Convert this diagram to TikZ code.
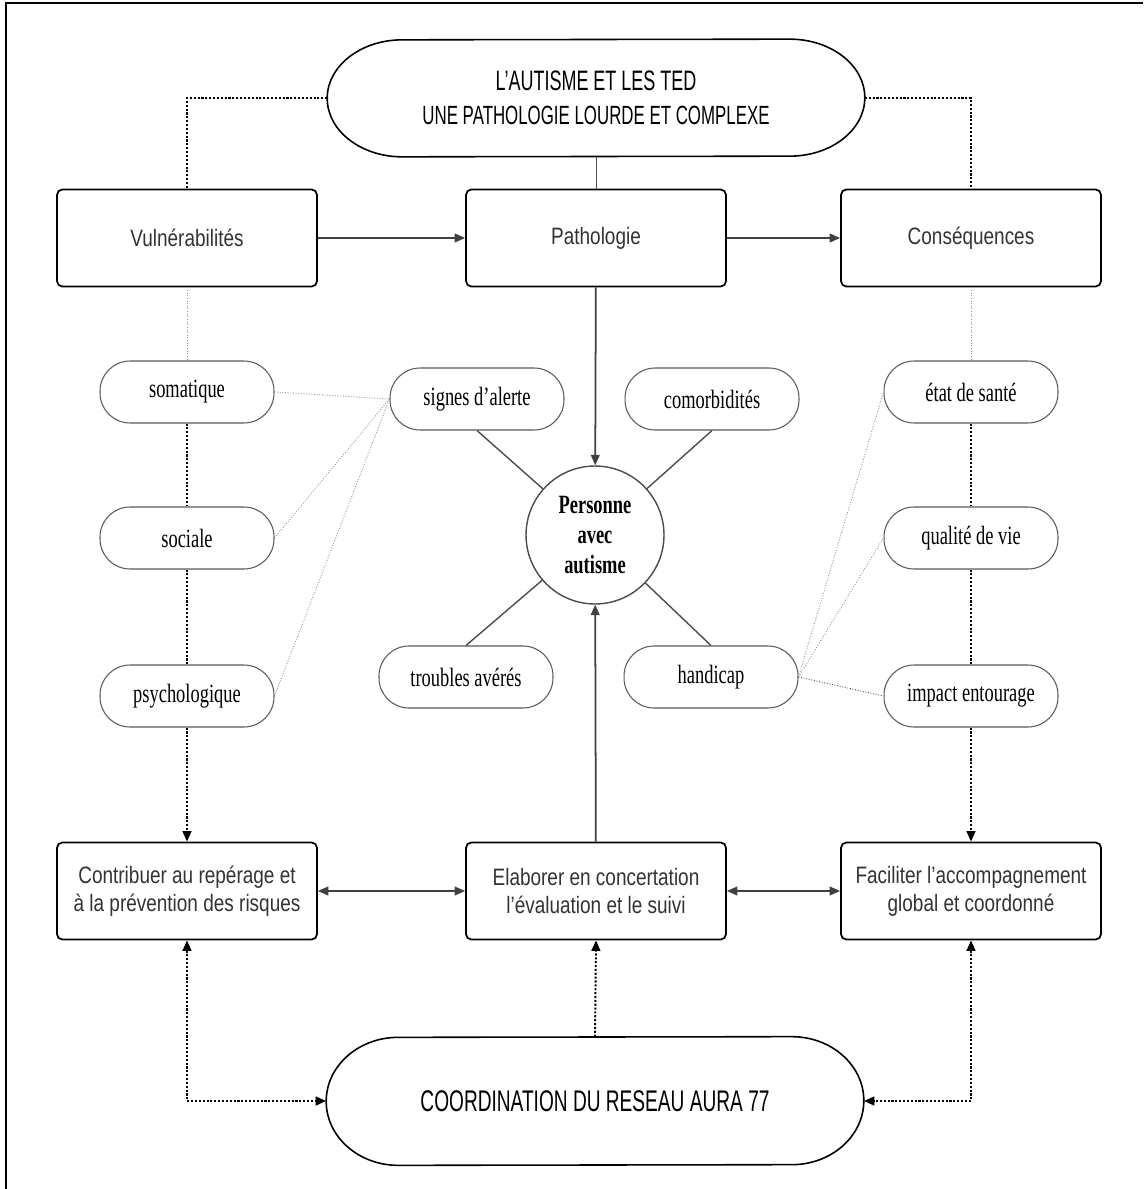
\documentclass[tikz,border=0pt]{standalone}
\usepackage{fontspec}
\setmainfont{Liberation Serif}
\newfontfamily\headsans[FakeStretch=0.64]{Liberation Sans}
\newfontfamily\boxsans[FakeStretch=0.8]{Liberation Sans}
\newfontfamily\pillserif[FakeStretch=0.7]{Liberation Serif}
\usetikzlibrary{calc,arrows.meta,positioning}
\newcommand\stadiumoutline[3]{\draw[line width=0.9pt] ($(#1.north east)+(-#2,0)$) arc[start angle=-90,end angle=90,x radius=#2,y radius=#3] -- ($(#1.south west)+(#2,0)$) arc[start angle=90,end angle=270,x radius=#2,y radius=#3] -- cycle;}

\begin{document}
\begin{tikzpicture}[x=0.02cm, y=-0.02cm,
		mainbox/.style={draw, line width=1pt, rounded corners=3pt, minimum width=5.2cm, minimum height=1.94cm, align=center, text=black!80, font=\boxsans\fontsize{13.5}{16}\selectfont},
		pill/.style={draw=black!65, line width=0.6pt, rounded corners=0.6cm, minimum width=3.48cm, minimum height=1.24cm, font=\pillserif\fontsize{15}{18}\selectfont},
		stadium/.style={minimum width=10.74cm, align=center, font=\headsans},
		arr/.style={line width=1pt, black!75, -{Triangle[length=6pt,width=5pt]}},
		biarr/.style={line width=1pt, black!75, {Triangle[length=6pt,width=5pt]}-{Triangle[length=6pt,width=5pt]}},
		link/.style={line width=0.8pt, black!70},
		darkdot/.style={line width=1.1pt, dash pattern=on 1.2pt off 1pt},
		lightdot/.style={line width=0.5pt, black!45, densely dotted}]
			%%%%% START %%%%%
			
			\useasboundingbox (0,0) rectangle (1143,1189);
			\draw[line width=1.1pt] (6,1189) -- (6,3) -- (1143,3);
			
			\node[stadium, minimum height=2.34cm] (ted) at (596,98) {\fontsize{16}{18}\selectfont L’AUTISME ET LES TED\\[7pt]\fontsize{15}{18}\selectfont UNE PATHOLOGIE LOURDE ET COMPLEXE};
			\stadiumoutline{ted}{75}{58.5}
			
			\node[mainbox] (vuln) at (187,238) {Vulnérabilités};
			\node[mainbox] (patho) at (596,238) {Pathologie};
			\node[mainbox] (cons) at (971,238) {Conséquences};
			
			\node[draw=black!70, line width=0.8pt, circle, minimum size=2.76cm, align=center, font=\pillserif\bfseries\fontsize{15}{17}\selectfont] (pers) at (595,535) {Personne\\avec\\autisme};
			
			\node[pill] (soma) at (187,392) {somatique};
			\node[pill] (soci) at (187,538) {sociale};
			\node[pill] (psy) at (187,696) {psychologique};
			\node[pill] (alerte) at (477,399) {signes d’alerte};
			\node[pill] (comorb) at (712,399) {comorbidités};
			\node[pill] (troub) at (466,677) {troubles avérés};
			\node[pill] (handi) at (711,677) {handicap};
			\node[pill] (sante) at (971,392) {état de santé};
			\node[pill] (vie) at (971,538) {qualité de vie};
			\node[pill] (entour) at (971,696) {impact entourage};
			
			\node[mainbox] (contrib) at (187,891) {Contribuer au repérage et\\à la prévention des risques};
			\node[mainbox] (elab) at (596,891) {Elaborer en concertation\\l’évaluation et le suivi};
			\node[mainbox] (facil) at (971,891) {Faciliter l’accompagnement\\global et coordonné};
			
			\node[stadium, minimum height=2.56cm, font=\headsans\fontsize{17}{20}\selectfont] (coord) at (595,1101) {COORDINATION DU RESEAU AURA 77};
			\stadiumoutline{coord}{72}{64}
			
			% top links
			\draw[darkdot] (ted.west) -| (vuln.north);
			\draw[darkdot] (ted.east) -| (cons.north);
			\draw[line width=0.5pt, black!70] (ted.south) -- (patho.north);
			\draw[arr] (vuln) -- (patho);
			\draw[arr] (patho) -- (cons);
			\draw[arr] (patho) -- (pers);
			
			% columns
			\draw[lightdot] (vuln) -- (soma);
			\draw[darkdot] (soma) -- (soci);
			\draw[darkdot] (soci) -- (psy);
			\draw[darkdot, -{Triangle[length=6pt,width=5pt]}] (psy) -- (contrib);
			\draw[lightdot] (cons) -- (sante);
			\draw[darkdot] (sante) -- (vie);
			\draw[darkdot] (vie) -- (entour);
			\draw[darkdot, -{Triangle[length=6pt,width=5pt]}] (entour) -- (facil);
			
			\draw[lightdot] (soma.east) -- (alerte.west);
			\draw[lightdot] (soci.east) -- (alerte.west);
			\draw[lightdot] (psy.east) -- (alerte.west);
			\draw[lightdot] (handi.east) -- (sante.west);
			\draw[lightdot] (handi.east) -- (vie.west);
			\draw[lightdot, black!70] (handi.east) -- (entour.west);
			
			\draw[link] (alerte.south) -- (pers);
			\draw[link] (comorb.south) -- (pers);
			\draw[link] (troub.north) -- (pers);
			\draw[link] (handi.north) -- (pers);
			
			% bottom links
			\draw[arr] (elab) -- (pers);
			\draw[biarr] (contrib) -- (elab);
			\draw[biarr] (elab) -- (facil);
			\draw[darkdot, {Triangle[length=6pt,width=5pt]}-{Triangle[length=6pt,width=5pt]}] (contrib.south) |- (coord.west);
			\draw[darkdot, -{Triangle[length=6pt,width=5pt]}] (coord.north) -- (elab.south);
			\draw[darkdot, {Triangle[length=6pt,width=5pt]}-{Triangle[length=6pt,width=5pt]}] (facil.south) |- (coord.east);
			
			%%%%% END %%%%%
		\end{tikzpicture}
\end{document}
